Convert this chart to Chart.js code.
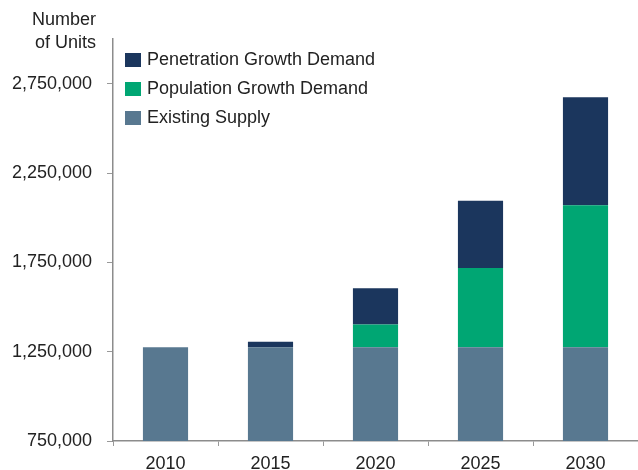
<!DOCTYPE html>
<html lang="en">
<head>
    <meta charset="UTF-8">
    <title>Number of Units</title>
    <script src="https://cdn.jsdelivr.net/npm/chart.js"></script>
    <style>
        body {
            margin: 0;
            background: #fff;
            font-family: "Liberation Sans", Arial, sans-serif;
            color: #222;
        }
        .wrap {
            position: relative;
            width: 638px;
            height: 470px;
        }
        .y-title {
            position: absolute;
            right: 542px;
            top: 8px;
            text-align: right;
            font-size: 18px;
            line-height: 23px;
        }
        .legend {
            position: absolute;
            left: 125px;
            top: 45px;
            font-size: 18px;
        }
        .legend-item {
            display: flex;
            align-items: center;
            height: 29px;
        }
        .legend-box {
            width: 16px;
            height: 14px;
            margin-right: 6px;
        }
    </style>
</head>
<body>
    <div class="wrap">
        <canvas id="myChart" width="638" height="470"></canvas>
        <div class="y-title">Number<br>of Units</div>
        <div class="legend" id="legend"></div>
    </div>

    <script>
        // categories and values
        const categories = ['2010', '2015', '2020', '2025', '2030'];
        const existingSupply = [1275000, 1275000, 1275000, 1275000, 1275000];
        const populationGrowth = [0, 0, 127000, 443000, 795000];
        const penetrationGrowth = [0, 31000, 203000, 377000, 604000];
        const yTicks = [750000, 1250000, 1750000, 2250000, 2750000];

        const seriesNames = ['Existing Supply', 'Population Growth Demand', 'Penetration Growth Demand'];
        const seriesColors = ['#587890', '#00A673', '#1B365D'];
        const seriesData = [existingSupply, populationGrowth, penetrationGrowth];

        const font = { family: '"Liberation Sans", Arial, sans-serif', size: 18 };

        const ctx = document.getElementById('myChart').getContext('2d');
        const chart = new Chart(ctx, {
            type: 'bar',
            data: {
                labels: categories,
                datasets: seriesNames.map((name, i) => ({
                    label: name,
                    data: seriesData[i],
                    backgroundColor: seriesColors[i],
                    borderWidth: 0,
                    barPercentage: 0.43,
                    categoryPercentage: 1
                }))
            },
            options: {
                responsive: false,
                animation: false,
                layout: { padding: { top: 39, right: 0, bottom: 0, left: 0 } },
                plugins: {
                    legend: { display: false },
                    tooltip: { enabled: false }
                },
                scales: {
                    x: {
                        stacked: true,
                        grid: {
                            drawOnChartArea: false,
                            tickLength: 5,
                            color: '#999'
                        },
                        border: { color: '#8c8c8c', width: 1.5 },
                        ticks: { color: '#222', font: font, padding: 7 },
                        afterFit: (s) => { s.height = 29; }
                    },
                    y: {
                        stacked: true,
                        min: 750000,
                        max: 3000000,
                        afterBuildTicks: (s) => { s.ticks = yTicks.map(v => ({ value: v })); },
                        grid: {
                            drawOnChartArea: false,
                            tickLength: 6,
                            color: '#999'
                        },
                        border: { color: '#8c8c8c', width: 1.5 },
                        ticks: {
                            color: '#222',
                            font: font,
                            padding: 15,
                            callback: (v) => v.toLocaleString('en-US')
                        },
                        afterFit: (s) => { s.width = 113; }
                    }
                }
            }
        });

        // legend inside the plot, top series first
        const legend = document.getElementById('legend');
        for (let i = seriesNames.length - 1; i >= 0; i--) {
            const item = document.createElement('div');
            item.className = 'legend-item';
            item.innerHTML = `<span class="legend-box" style="background:${seriesColors[i]}"></span>${seriesNames[i]}`;
            legend.appendChild(item);
        }
    </script>
</body>
</html>
